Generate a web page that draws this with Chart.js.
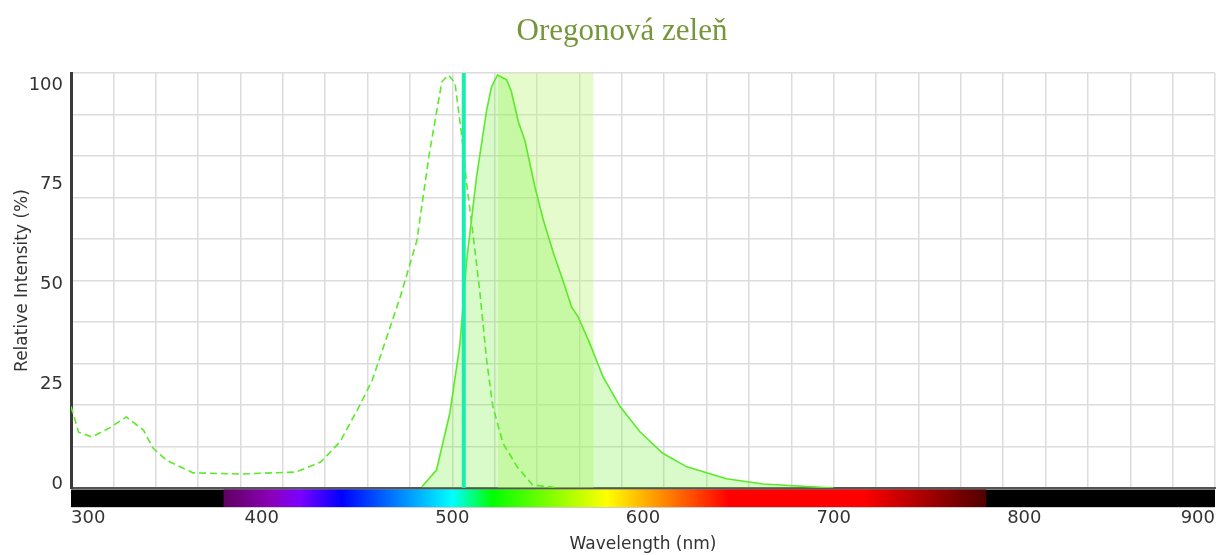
<!DOCTYPE html>
<html><head><meta charset="utf-8">
<script src="https://cdn.jsdelivr.net/npm/chart.js@4/dist/chart.umd.min.js"></script>
<style>html,body{margin:0;padding:0;background:#fff;}#wrap{width:1217px;height:555px;position:relative;}</style>
</head><body><div id="wrap"><canvas id="c" width="1217" height="555"></canvas></div>
<script>
// ---- data ----
const chartTitle = 'Oregonová zeleň';
const xAxisTitle = 'Wavelength (nm)';
const yAxisTitle = 'Relative Intensity (%)';
const xTickValues = [300, 400, 500, 600, 700, 800, 900];
const yTickValues = [0, 25, 50, 75, 100];
const excitationNm  = [300, 304, 311, 320, 329, 338, 343, 350, 364, 389, 418, 431, 441, 451, 458, 472.5, 481.4, 488, 494.5, 498, 501.4, 505, 507.5, 511, 514.5, 518, 521.3, 526.5, 534, 542, 556];
const excitationVal = [20.4, 14, 12.8, 15, 17.8, 14.5, 10, 7, 3.8, 3.5, 4, 6.5, 11.5, 20.3, 27, 47.6, 62, 84, 101.8, 103.5, 101.5, 88, 76.4, 63, 48.8, 32, 20.3, 11.3, 5.3, 0.8, 0];
const emissionNm  = [484, 491.7, 498.7, 504, 507.5, 512.7, 518, 520.6, 523.7, 528.5, 531, 534.6, 538, 543.3, 547.7, 553, 558, 562.5, 566, 572, 579, 588, 598.4, 610.4, 623, 643.8, 663, 700];
const emissionVal = [0.3, 4.5, 18.8, 36, 57, 78, 94.7, 100.6, 103.5, 102.3, 99.3, 91.8, 87.2, 75.5, 67.2, 58.9, 52, 45.4, 42.9, 36.3, 27.9, 20.4, 14.1, 8.7, 5.3, 2.3, 1.0, 0];
const laserNm = 506;
const filterBand = [524, 574];
const visibleRange = [380, 780];
const xRange = [300, 900];
const yRange = [0, 104];

// ---- styles ----
const specStops = [[380,'#600060'],[405,'#8a00b8'],[420,'#7c00ff'],[442,'#0000ff'],[500,'#00ffff'],[521,'#00ff00'],[581,'#ffff00'],[645,'#ff0000'],[715,'#ff0000'],[780,'#500000']];
const lineGreen = '#5aeb28';

const toXY = (xs, ys) => xs.map((x, i) => ({x: x, y: ys[i]}));

const bandPlugin = {
  id: 'band',
  beforeDatasetsDraw(chart) {
    const {ctx, chartArea: a, scales} = chart;
    const x0 = scales.x.getPixelForValue(filterBand[0]);
    const x1 = scales.x.getPixelForValue(filterBand[1]);
    ctx.save();
    ctx.fillStyle = 'rgba(190,245,120,0.38)';
    ctx.fillRect(x0, a.top, x1 - x0, a.bottom - a.top);
    ctx.restore();
  }
};

const specPlugin = {
  id: 'spec',
  afterDraw(chart) {
    const {ctx, chartArea: a, scales} = chart;
    const sx = scales.x;
    const top = a.bottom + 1.5, h = 17.5;
    ctx.save();
    ctx.fillStyle = '#000';
    ctx.fillRect(a.left, top, a.right - a.left, h);
    const g0 = sx.getPixelForValue(visibleRange[0]);
    const g1 = sx.getPixelForValue(visibleRange[1]);
    const grad = ctx.createLinearGradient(g0, 0, g1, 0);
    specStops.forEach(([nm, c]) => grad.addColorStop((nm - visibleRange[0]) / (visibleRange[1] - visibleRange[0]), c));
    ctx.fillStyle = grad;
    ctx.fillRect(g0, top, g1 - g0, h);
    ctx.fillStyle = '#cfcfcf';
    ctx.fillRect(a.left, top + h, a.right - a.left, 1);
    // title
    ctx.fillStyle = '#76963c';
    ctx.font = '31px "Liberation Serif", serif';
    ctx.textAlign = 'center';
    ctx.textBaseline = 'alphabetic';
    ctx.fillText(chartTitle, 622, 39.5);
    ctx.restore();
  }
};

new Chart(document.getElementById('c'), {
  type: 'line',
  data: {
    datasets: [
      {
        label: 'laser',
        data: [{x: laserNm, y: yRange[0]}, {x: laserNm, y: yRange[1]}],
        borderColor: '#19eeae',
        borderWidth: 4,
        pointRadius: 0,
        fill: false
      },
      {
        label: 'excitation',
        data: toXY(excitationNm, excitationVal),
        borderColor: lineGreen,
        borderWidth: 1.6,
        borderDash: [7, 4],
        pointRadius: 0,
        fill: false,
        tension: 0
      },
      {
        label: 'emission',
        data: toXY(emissionNm, emissionVal),
        borderColor: lineGreen,
        borderWidth: 1.6,
        backgroundColor: 'rgba(120,240,60,0.28)',
        pointRadius: 0,
        fill: 'origin',
        tension: 0
      }
    ]
  },
  options: {
    responsive: false,
    animation: false,
    devicePixelRatio: 1,
    layout: {padding: {top: 73, right: 2, bottom: 0, left: 0}},
    plugins: {legend: {display: false}, tooltip: {enabled: false}, title: {display: false}},
    scales: {
      x: {
        type: 'linear', position: 'bottom', min: xRange[0], max: xRange[1],
        afterBuildTicks: s => { s.ticks = xTickValues.map(v => ({value: v})); },
        afterFit: s => { s.height = 67; s.paddingLeft = 0; s.paddingRight = 0; },
        grid: {display: false, drawTicks: false},
        border: {display: true, color: '#555', width: 2},
        ticks: {align: 'inner', padding: 20, color: '#333', font: {family: '"DejaVu Sans", sans-serif', size: 18}, maxRotation: 0},
        title: {display: true, text: xAxisTitle, color: '#333', font: {family: '"DejaVu Sans", sans-serif', size: 17}, padding: {top: 0, bottom: 0}}
      },
      y: {
        type: 'linear', position: 'left', min: yRange[0], max: yRange[1],
        afterBuildTicks: s => { s.ticks = yTickValues.map(v => ({value: v})); },
        afterFit: s => { s.width = 71; s.paddingTop = 0; s.paddingBottom = 0; },
        grid: {display: false, drawTicks: false},
        border: {display: true, color: '#3a3a3a', width: 3},
        ticks: {padding: 8, labelOffset: -4, color: '#333', font: {family: '"DejaVu Sans", sans-serif', size: 18}},
        title: {display: true, text: yAxisTitle, color: '#333', font: {family: '"DejaVu Sans", sans-serif', size: 17}, padding: {top: 12, bottom: 0}}
      },
      xg: {
        type: 'linear', position: 'bottom', min: 0, max: 27,
        afterFit: s => { s.height = 0; s.paddingLeft = 0; s.paddingRight = 0; },
        ticks: {display: false, stepSize: 1},
        grid: {display: true, drawTicks: false, color: '#dcdcdc', lineWidth: 1.5},
        border: {display: false}
      },
      yg: {
        type: 'linear', position: 'left', min: 0, max: 10,
        afterFit: s => { s.width = 0; s.paddingTop = 0; s.paddingBottom = 0; },
        ticks: {display: false, stepSize: 1},
        grid: {display: true, drawTicks: false, color: '#dcdcdc', lineWidth: 1.5},
        border: {display: false}
      }
    }
  },
  plugins: [bandPlugin, specPlugin]
});
</script>
</body></html>
